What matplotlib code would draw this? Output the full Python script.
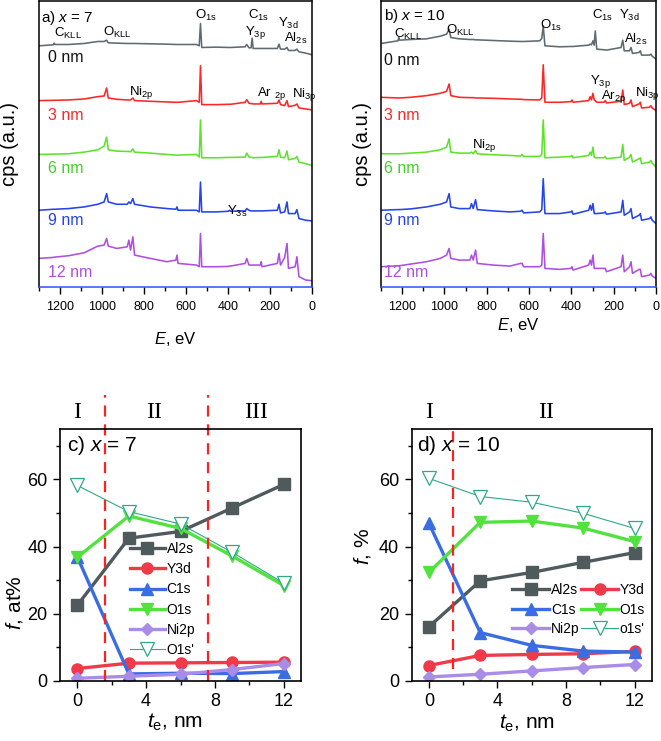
import matplotlib
matplotlib.use('Agg')
import matplotlib.pyplot as plt
from matplotlib.ticker import MultipleLocator

plt.rcParams['font.family'] = ['Liberation Sans', 'DejaVu Sans']
plt.rcParams['mathtext.fontset'] = 'custom'
plt.rcParams['mathtext.rm'] = 'Liberation Sans'
plt.rcParams['mathtext.it'] = 'Liberation Sans:italic'
plt.rcParams['mathtext.bf'] = 'Liberation Sans:bold'

# ---- XPS survey spectra (binding energy, eV) ----
E_a = [1300, 1232, 1228, 1224, 1160, 1085, 1020, 990, 978, 970, 930, 880, 872, 864, 853,
       845, 770, 690, 648, 643, 638, 550, 537, 531, 525, 455, 398, 393, 388, 318,
       311, 300, 290, 285, 280, 246, 242, 238, 165, 157, 150, 130, 119, 112, 80,
       72, 62, 30, 0]
a0 = [0, 3, 8, 4, 4, 7, 13, 13, 17, 9, 8, 7, 7, 7, 7,
      7, 6, 5, 4, 4, 4, 4, 0, 67, -5, -4, -5, -5, -5, -3,
      4, -6, -6, 23, -8, -8, -8, -8, -8, 5, -10, -10, -5, -14, -14,
      -10, -18, -22, -27]
a3 = [0, 1, 1, 1, 2, 5, 12, 14, 38, 8, 4, 2, 2, 2, 8,
      0, -2, -4, -5, -5, -5, 0, -5, 105, -12, -12, -11, -11, -11, -5,
      3, -8, -9, -9, -10, -10, -2, -10, -8, 2, -12, -15, 0, -18, -14,
      -10, -22, -25, -28]
a6 = [0, 1, 1, 1, 2, 7, 14, 25, 52, 14, 10, 9, 9, 8, 17,
      7, 4, 0, -2, -2, -2, 0, -8, 104, -10, -10, -9, -9, -9, -8,
      4, -8, -9, -9, -10, -9, -9, -9, -6, 14, -8, -10, 10, -16, -12,
      -6, -23, -28, -33]
a9 = [0, 3, 3, 3, 5, 10, 18, 25, 50, 25, 18, 18, 25, 20, 35,
      18, 10, 5, 3, 10, 0, 0, -5, 85, -5, -5, -3, 0, -3, -2,
      5, 0, -2, -2, -2, -2, -2, -2, 0, 18, -8, -5, 25, -10, -10,
      2, -25, -30, -32]
a12 = [0, 3, 4, 4, 8, 17, 37, 40, 60, 37, 30, 35, 55, 25, 65,
       10, 0, -10, -5, 10, -15, -20, -25, 75, -25, -25, -24, -23, -23, -15,
       0, -20, -20, -20, -20, -20, -10, -25, -15, 15, -20, 3, 45, -30, -25,
       5, -55, -65, -67]

E_b = [1300, 1220, 1216, 1212, 1160, 1085, 1020, 990, 978, 970, 930, 880, 872, 864, 853,
       845, 770, 690, 640, 633, 626, 550, 540, 533, 525, 455, 402, 397, 392, 318,
       311, 305, 298, 292, 287, 280, 246, 240, 234, 165, 157, 150, 125, 118, 111,
       80, 74, 68, 30, 24, 18, 0]
b0 = [0, 8, 18, 10, 12, 14, 22, 28, 43, 18, 14, 12, 12, 12, 11,
      11, 9, 7, 6, 6, 6, 8, 15, 53, -7, -10, -9, -9, -9, -5,
      -2, -4, 8, -5, 38, -17, -19, -19, -20, -12, 10, -22, -22, -12, -30,
      -27, -22, -35, -35, -32, -38, -47]
b3 = [0, -2, -2, -2, 0, 5, 12, 18, 40, 5, 0, -1, -1, -1, -2,
      -2, -3, -5, -6, -6, -7, -8, -2, 98, -15, -15, -13, -8, -15, -10,
      2, -8, 12, -8, -10, -15, -15, -10, -17, -12, 22, -22, -18, -8, -28,
      -20, -15, -32, -30, -25, -32, -40]
b6 = [0, 0, 0, 0, 2, 5, 12, 20, 45, 5, 2, 2, 5, 0, 10,
      0, -3, -5, -7, -2, -8, -8, -2, 102, -12, -10, -8, -5, -12, -5,
      5, -5, 20, -10, -12, -12, -12, -8, -15, -10, 28, -20, -10, -2, -25,
      -15, -12, -30, -25, -20, -28, -40]
b9 = [0, 2, 2, 2, 4, 10, 18, 25, 50, 10, 5, 5, 20, 5, 32,
      2, -2, -5, -3, 0, -8, -5, 2, 95, -10, -10, -5, -2, -12, 0,
      15, 0, 20, -10, -10, -10, -8, -5, -12, -5, 30, -15, -5, 5, -25,
      -15, -10, -30, -25, -20, -30, -40]
b12 = [0, 3, 3, 3, 8, 15, 25, 35, 55, 25, 20, 20, 35, 20, 50,
       10, 5, 2, 10, 10, 0, 0, 5, 100, -5, -8, -5, 0, -10, 5,
       20, 5, 35, -5, -5, -5, -5, -5, -15, 0, 35, -15, 0, 15, -20,
       -8, -8, -30, -25, -20, -28, -35]

thick = ['0 nm', '3 nm', '6 nm', '9 nm', '12 nm']

# ---- composition vs thickness ----
te = [0, 3, 6, 9, 12]
c_al2s = [22.5, 42.5, 44.5, 51.5, 58.5]
c_y3d = [3.7, 5.3, 5.4, 5.5, 5.6]
c_c1s = [37.0, 2.1, 2.3, 2.2, 2.8]
c_o1s = [36.8, 49.1, 45.4, 37.2, 28.4]
c_ni2p = [0.8, 1.4, 2.0, 3.4, 5.2]
c_o1s_p = [58.2, 50.4, 46.7, 38.3, 29.1]

d_al2s = [16.1, 29.8, 32.3, 35.3, 38.2]
d_y3d = [4.6, 7.6, 7.9, 8.1, 8.8]
d_c1s = [47.0, 14.4, 10.6, 8.9, 8.6]
d_o1s = [32.3, 47.2, 47.6, 45.5, 41.5]
d_ni2p = [1.2, 2.0, 3.0, 4.0, 4.9]
d_o1s_p = [60.3, 54.9, 53.2, 49.9, 45.4]

spec_colors = ['#5f6b70', '#ff2626', '#5ee22c', '#2444ee', '#b04ee2']
label_colors = ['#111111', '#ff2626', '#44cc2a', '#2444ee', '#b04ee2']

fig = plt.figure(figsize=(6.61, 7.41), dpi=100)


def spectra_panel(rect, E, specs, offsets, lab_x, lab_y, ylab_x, xlab_pad):
    ax = fig.add_axes(rect)
    for s, off, col in zip(specs, offsets, spec_colors):
        ax.plot(E, [v + off for v in s], color=col, lw=1.15)
    for t, y, col in zip(thick, lab_y, label_colors):
        ax.text(lab_x, y, t, color=col, fontsize=11.5, transform=ax.transAxes,
                ha='left', va='center')
    ax.set_xlim(1300, 0)
    ax.set_ylim(0, 861)
    ax.set_yticks([])
    ax.xaxis.set_major_locator(MultipleLocator(200))
    ax.xaxis.set_minor_locator(MultipleLocator(100))
    ax.tick_params(axis='x', which='major', direction='out', length=5, width=1, labelsize=9, pad=5)
    ax.tick_params(axis='x', which='minor', direction='out', length=3, width=1)
    ax.spines['bottom'].set_color('#3050ff')
    for sp in ax.spines.values():
        sp.set_linewidth(1.1)
    ax.set_ylabel('cps (a.u.)', fontsize=14.5)
    ax.yaxis.set_label_coords(ylab_x, 0.5)
    ax.set_xlabel(r'$\it{E}$, eV', fontsize=12, labelpad=xlab_pad)
    return ax


ax_a = spectra_panel([0.0590, 0.6127, 0.4130, 0.3860], E_a, [a0, a3, a6, a9, a12],
                     [726, 561, 399, 231, 86], 0.033,
                     [0.801, 0.599, 0.415, 0.233, 0.049], -0.073, 12)
ax_b = spectra_panel([0.5764, 0.6127, 0.4160, 0.3860], E_b, [b0, b3, b6, b9, b12],
                     [733, 571, 401, 231, 61], 0.012,
                     [0.791, 0.599, 0.415, 0.233, 0.049], -0.033, 2)

pk = dict(fontsize=9.5, ha='left', va='center')
ax_a.text(1290, 810, r'a) $\it{x}$ = 7', fontsize=11, ha='left', va='center')
ax_a.text(1227, 762, r'C$_{\rm KLL}$', **pk)
ax_a.text(995, 765, r'O$_{\rm KLL}$', **pk)
ax_a.text(555, 816, r'O$_{\rm 1s}$', **pk)
ax_a.text(303, 816, r'C$_{\rm 1s}$', **pk)
ax_a.text(318, 765, r'Y$_{\rm 3p}$', **pk)
ax_a.text(161, 792, r'Y$_{\rm 3d}$', **pk)
ax_a.text(133, 747, r'Al$_{\rm 2s}$', **pk)
ax_a.text(872, 585, r'Ni$_{\rm 2p}$', **pk)
ax_a.text(261, 582, r'Ar $_{\rm 2p}$', **pk)
ax_a.text(95, 579, r'Ni$_{\rm 3p}$', **pk)
ax_a.text(406, 228, r'Y$_{\rm 3s}$', **pk)

ax_b.text(1287, 816, r'b) $\it{x}$ = 10', fontsize=11, ha='left', va='center')
ax_b.text(1240, 761, r'C$_{\rm KLL}$', **pk)
ax_b.text(995, 771, r'O$_{\rm KLL}$', **pk)
ax_b.text(550, 786, r'O$_{\rm 1s}$', **pk)
ax_b.text(302, 816, r'C$_{\rm 1s}$', **pk)
ax_b.text(176, 816, r'Y$_{\rm 3d}$', **pk)
ax_b.text(153, 746, r'Al$_{\rm 2s}$', **pk)
ax_b.text(313, 620, r'Y$_{\rm 3p}$', **pk)
ax_b.text(258, 572, r'Ar$_{\rm 2p}$', **pk)
ax_b.text(98, 581, r'Ni$_{\rm 3p}$', **pk)
ax_b.text(869, 426, r'Ni$_{\rm 2p}$', **pk)

# ---- bottom panels ----
series_style = [
    ('Al2s', '#4f5a5d', 's'),
    ('Y3d', '#f03a4a', 'o'),
    ('C1s', '#3a6de2', '^'),
    ('O1s', '#52e23e', 'v'),
    ('Ni2p', '#a98be8', 'D'),
]
teal = '#2fa88a'


def comp_panel(rect, vals, prime, prime_label):
    ax = fig.add_axes(rect)
    handles = []
    for (name, col, mk), v in zip(series_style, vals):
        ms = 6.5 if mk == 'D' else 8
        h, = ax.plot(te, v, color=col, lw=2.4, marker=mk, ms=ms, label=name)
        handles.append(h)
    h, = ax.plot(te, prime, color=teal, lw=0.8, marker='v', ms=9.5, mfc='white',
                 mec=teal, mew=0.9, label=prime_label)
    handles.append(h)
    ax.set_xlim(-1, 13)
    ax.set_ylim(0, 75)
    ax.xaxis.set_major_locator(MultipleLocator(4))
    ax.xaxis.set_minor_locator(MultipleLocator(2))
    ax.yaxis.set_major_locator(MultipleLocator(20))
    ax.yaxis.set_minor_locator(MultipleLocator(10))
    ax.tick_params(which='major', direction='out', length=5, width=1, labelsize=13, pad=4)
    ax.tick_params(which='minor', direction='out', length=3, width=1)
    for sp in ax.spines.values():
        sp.set_linewidth(1.2)
    ax.set_xlabel(r'$\it{t}_{\rm e}$, nm', fontsize=15)
    return ax, handles


ax_c, hc = comp_panel([0.0908, 0.0810, 0.3646, 0.3401],
                      [c_al2s, c_y3d, c_c1s, c_o1s, c_ni2p], c_o1s_p, "O1s'")
ax_d, hd = comp_panel([0.6228, 0.0810, 0.3631, 0.3401],
                      [d_al2s, d_y3d, d_c1s, d_o1s, d_ni2p], d_o1s_p, "o1s'")

ax_c.set_ylabel(r'$\it{f}$, at%', fontsize=15)
ax_c.yaxis.set_label_coords(-0.145, 0.31)
ax_c.xaxis.set_label_coords(0.477, -0.12)
ax_d.set_ylabel(r'$\it{f}$, %', fontsize=15)
ax_d.yaxis.set_label_coords(-0.16, 0.533)
ax_d.xaxis.set_label_coords(0.479, -0.125)

ax_c.legend(handles=hc, loc='upper left', bbox_to_anchor=(0.29, 0.552), frameon=False,
            fontsize=10, handlelength=2.5, handletextpad=0.15, labelspacing=0.45,
            borderpad=0, borderaxespad=0)
order = [0, 2, 4, 1, 3, 5]
ax_d.legend(handles=[hd[i] for i in order], loc='upper left', bbox_to_anchor=(0.418, 0.39),
            ncol=2, frameon=False, fontsize=10, handlelength=2.7, handletextpad=0.1,
            columnspacing=0.1, labelspacing=0.42, borderpad=0, borderaxespad=0)

ax_c.text(-0.6, 70, r'c) $\it{x}$ = 7', fontsize=15, ha='left', va='center')
ax_d.text(-0.7, 70, r'd) $\it{x}$ = 10', fontsize=15, ha='left', va='center')

dash = dict(color='#ff2020', lw=1.6, ls=(0, (5, 3.5)), clip_on=False)
ax_c.plot([1.6, 1.6], [0, 85], **dash)
ax_c.plot([7.6, 7.6], [0, 85], **dash)
ax_d.plot([1.4, 1.4], [3.5, 76], **dash)

rom = dict(fontsize=17, family=['Liberation Serif', 'DejaVu Serif'], ha='center', va='center')
ax_c.text(0, 80, 'I', **rom)
ax_c.text(4.45, 80, 'II', **rom)
ax_c.text(10.4, 80, 'III', **rom)
ax_d.text(0, 80, 'I', **rom)
ax_d.text(6.85, 80, 'II', **rom)

fig.savefig('out.png', dpi=100)
